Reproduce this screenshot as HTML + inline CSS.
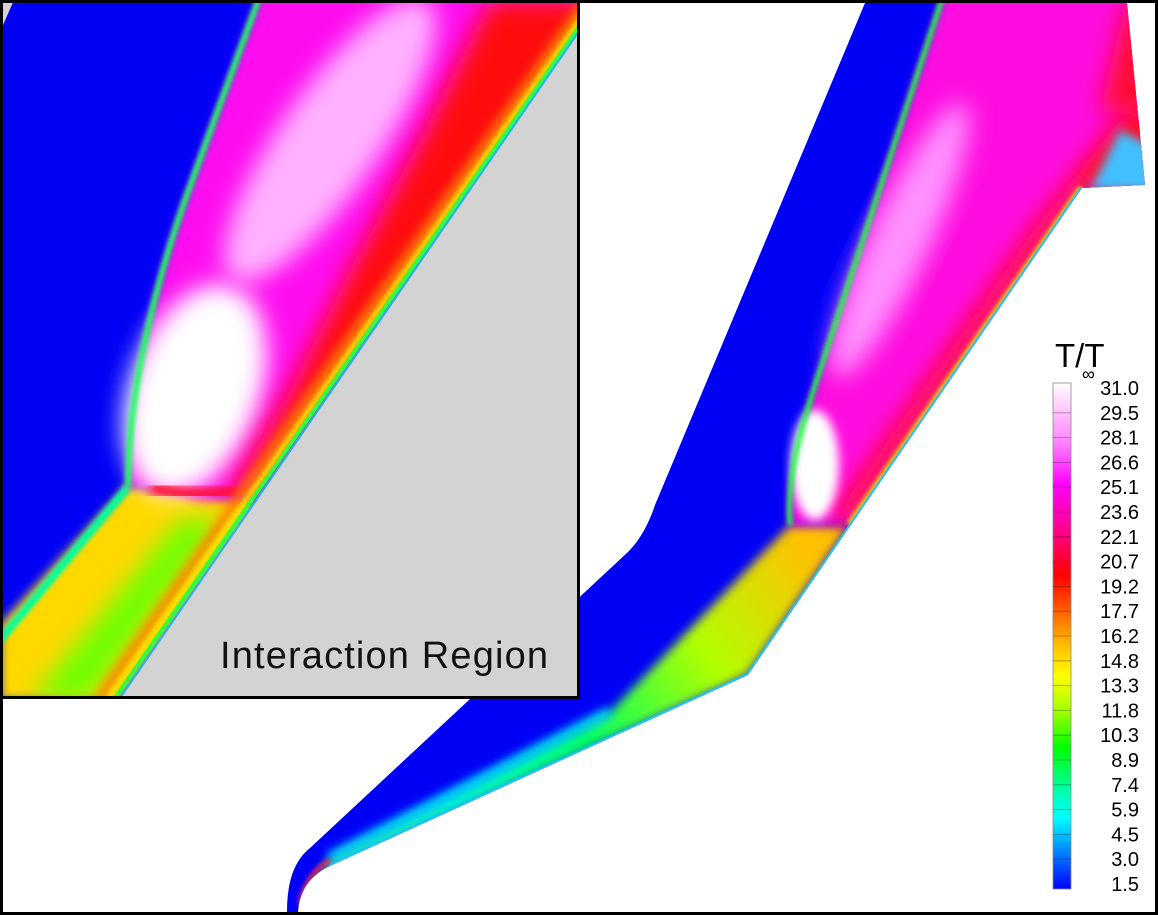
<!DOCTYPE html>
<html><head><meta charset="utf-8"><style>
html,body{margin:0;padding:0;background:#fff}
svg{display:block}
text{font-family:"Liberation Sans",sans-serif}
</style></head><body>
<svg id="fig" width="1158" height="915" viewBox="0 0 1158 915">
<defs>
 <filter id="b2" x="-20%" y="-20%" width="140%" height="140%"><feGaussianBlur stdDeviation="2"/></filter>
 <filter id="b5" x="-20%" y="-20%" width="140%" height="140%"><feGaussianBlur stdDeviation="5"/></filter>
 <filter id="b12" x="-30%" y="-30%" width="160%" height="160%"><feGaussianBlur stdDeviation="12"/></filter>
 <clipPath id="dom"><path d="M287,912 C287,880 295,860 310,848 L628,552 Q645,535 655,505 L865,3 L1127,3 L1145,185 L1082,188 L748,675 L330,866 Q300,880 298,912 Z"/></clipPath>
 <clipPath id="ins"><rect x="3" y="3" width="575" height="695"/></clipPath>
 <linearGradient id="lowband" x1="790" y1="525" x2="320" y2="870" gradientUnits="userSpaceOnUse">
  <stop offset="0" stop-color="#ffc000"/><stop offset="0.25" stop-color="#b0ff00"/><stop offset="0.5" stop-color="#00ff60"/><stop offset="0.75" stop-color="#00ffc0"/><stop offset="1" stop-color="#40ff80"/>
 </linearGradient>
 <linearGradient id="cbar" x1="0" y1="0" x2="0" y2="1">
  <stop offset="0" stop-color="#ffffff"/><stop offset="0.12" stop-color="#ff80ff"/><stop offset="0.2" stop-color="#ff00ff"/><stop offset="0.3" stop-color="#ff0080"/><stop offset="0.38" stop-color="#ff0000"/><stop offset="0.45" stop-color="#ff6000"/><stop offset="0.52" stop-color="#ffc000"/><stop offset="0.58" stop-color="#ffff00"/><stop offset="0.65" stop-color="#a0ff00"/><stop offset="0.72" stop-color="#00ff00"/><stop offset="0.8" stop-color="#00ffa0"/><stop offset="0.86" stop-color="#00ffff"/><stop offset="0.92" stop-color="#0090ff"/><stop offset="1" stop-color="#0000ff"/>
 </linearGradient>
</defs>
<rect x="0" y="0" width="1158" height="915" fill="#fff"/>

<g clip-path="url(#dom)">
 <rect x="0" y="0" width="1158" height="915" fill="#0000f5"/>
 <path d="M790,525 L610,712 L330,858 L300,905 L330,870 L748,675 L850,525 Z" fill="url(#lowband)" filter="url(#b5)"/>
 <path d="M610,712 L330,858" stroke="#00e0ff" stroke-width="10" fill="none" filter="url(#b5)"/>
 <path d="M790,525 C786,480 800,430 820,370 L945,-10 L1160,-10 L1160,190 L1082,190 L850,525 Z" fill="#ff10e0" filter="url(#b5)"/>
 <path d="M1082,190 L850,525 L835,515 L1040,220 L1120,120 L1160,100 L1160,190 Z" fill="#ff1010" filter="url(#b12)"/>
 <path d="M1127,0 L1160,0 L1160,120 L1100,110 Z" fill="#ff1030" filter="url(#b12)"/>
 <ellipse cx="815" cy="465" rx="24" ry="55" fill="#fff" filter="url(#b5)"/>
 <ellipse cx="900" cy="240" rx="30" ry="150" transform="rotate(25 900 240)" fill="#ff90ff" filter="url(#b12)"/>
 <path d="M1120,130 L1160,150 L1160,190 L1090,190 Z" fill="#40c0ff" filter="url(#b5)"/>
 <path d="M1082,188 L850,525" stroke="#ffd000" stroke-width="8" fill="none" filter="url(#b2)"/>
 <path d="M790,525 C786,480 800,430 820,370 L945,-10" stroke="#20ff40" stroke-width="5" fill="none" filter="url(#b2)"/>
 <path d="M1082,188 L748,675 L330,866" stroke="#20c0ff" stroke-width="4" fill="none"/>
 <path d="M300,905 Q305,875 330,860" stroke="#ff2040" stroke-width="4" fill="none" filter="url(#b2)"/>
</g>

<g clip-path="url(#ins)">
 <rect x="0" y="0" width="580" height="700" fill="#0000f5"/>
 <path d="M128,485 L0,625 L0,700 L120,700 L260,500 Z" fill="#ffd800" filter="url(#b5)"/>
 <path d="M30,700 L180,520 L225,520 L90,700 Z" fill="#70ff00" filter="url(#b12)"/>
 <path d="M0,640 L128,487" stroke="#00ffa0" stroke-width="8" fill="none" filter="url(#b2)"/>
 <path d="M128,485 C128,400 150,300 185,200 L262,-10 L600,-10 L600,20 L258,500 L200,500 Z" fill="#ff10f0" filter="url(#b5)"/>
 <ellipse cx="195" cy="390" rx="65" ry="110" transform="rotate(20 195 390)" fill="#fff" filter="url(#b12)"/>
 <ellipse cx="330" cy="140" rx="50" ry="170" transform="rotate(35 330 140)" fill="#ffb0ff" filter="url(#b12)"/>
 <path d="M230,495 L290,390 L350,270 L420,140 L490,0 L600,0 L600,20 L255,502 Z" fill="#ff1010" filter="url(#b12)"/>
 <path d="M150,487 Q200,500 245,490" stroke="#ff1030" stroke-width="14" fill="none" filter="url(#b5)"/>
 <path d="M128,487 C128,400 150,300 185,200 L262,-10" stroke="#20ff60" stroke-width="6" fill="none" filter="url(#b2)"/>
 <path d="M100,698 L584,5" stroke="#ff8000" stroke-width="10" fill="none" filter="url(#b5)"/>
 <path d="M109,698 L590,5" stroke="#ffe000" stroke-width="6" fill="none" filter="url(#b2)"/>
 <path d="M115,698 L594,5" stroke="#30ff40" stroke-width="4" fill="none"/>
 <path d="M0,0 L14,0 L0,32 Z" fill="#d3d3d3"/>
 <path d="M120,698 L597,5 L600,5 L600,700 Z" fill="#d3d3d3"/>
 <path d="M120,698 L597,5" stroke="#20b0ff" stroke-width="2" fill="none"/>
 <text x="220" y="668" font-size="38" fill="#111" textLength="328">Interaction Region</text>
</g>
<rect x="1.5" y="1.5" width="577" height="696" fill="none" stroke="#000" stroke-width="3"/>
<rect x="1.5" y="1.5" width="1155" height="912" fill="none" stroke="#000" stroke-width="3"/>

<g id="legend">
 <text x="1055" y="367" font-size="33" fill="#000">T/T</text>
 <text x="1082" y="380" font-size="18" fill="#000">∞</text>
 <rect x="1053" y="383" width="18" height="506" fill="url(#cbar)" stroke="#888" stroke-width="0.8"/>
</g>
</svg>
<script>
const tickLabels = ["31.0","29.5","28.1","26.6","25.1","23.6","22.1","20.7","19.2","17.7","16.2","14.8","13.3","11.8","10.3","8.9","7.4","5.9","4.5","3.0","1.5"];
const ns = "http://www.w3.org/2000/svg";
const g = document.getElementById('legend');
const top0 = 388, bot0 = 884;
function yPos(i){ return top0 + (bot0 - top0) * i / (tickLabels.length - 1); }
tickLabels.forEach((lab, i) => {
  const y = yPos(i);
  if (i > 0 && i < tickLabels.length - 1) {
    const l = document.createElementNS(ns, 'line');
    l.setAttribute('x1', 1053); l.setAttribute('x2', 1071);
    l.setAttribute('y1', y); l.setAttribute('y2', y);
    l.setAttribute('stroke', 'rgba(0,0,0,0.35)'); l.setAttribute('stroke-width', '0.8');
    
    
    g.appendChild(l);
  }
  const t = document.createElementNS(ns, 'text');
  t.setAttribute('x', 1139); t.setAttribute('y', y + 7);
  t.setAttribute('text-anchor', 'end'); t.setAttribute('font-size', '20');
  t.textContent = lab;
  
  
  g.appendChild(t);
});
</script>
</body></html>
